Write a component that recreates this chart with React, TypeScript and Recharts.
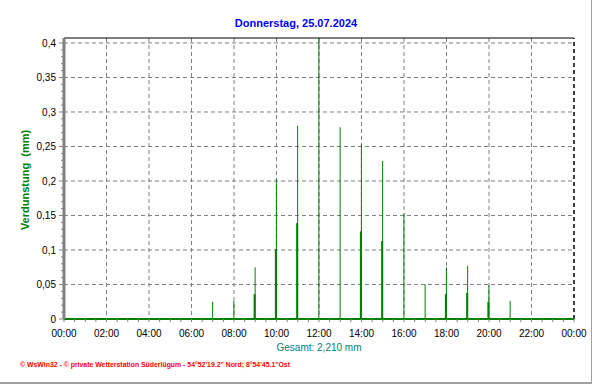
import { BarChart, Bar, XAxis, YAxis, CartesianGrid, ReferenceLine } from "recharts";

// Verdunstung pro Stunde (mm), 25.07.2024
const hours = [7, 8, 9, 10, 11, 12, 13, 14, 15, 16, 17, 18, 19, 20, 21];
const hourlyMm = [0.025, 0.026, 0.075, 0.203, 0.28, 0.41, 0.278, 0.254, 0.229, 0.153, 0.05, 0.075, 0.077, 0.049, 0.026];
const partMm = [null, null, 0.036, 0.101, 0.139, null, null, 0.127, 0.113, null, null, 0.036, 0.038, 0.025, null];

const timeLabels = ["00:00", "02:00", "04:00", "06:00", "08:00", "10:00", "12:00", "14:00", "16:00", "18:00", "20:00", "22:00", "00:00"];
const yLabels = ["0", "0,05", "0,1", "0,15", "0,2", "0,25", "0,3", "0,35", "0,4"];

const data = hours.map((h, i) => ({ t: h * 60, hourly: hourlyMm[i], part: partMm[i] }));

const xTicks = Array.from({ length: 49 }, (_, i) => i * 30);
const yTicks = Array.from({ length: 41 }, (_, i) => i / 100);
const vGrid = timeLabels.slice(1, -1).map((_, i) => (i + 1) * 120);
const hGrid = yLabels.slice(1).map((_, i) => (i + 1) * 0.05);

const Y_MAX = 0.4072;
const GREEN = "#008000";
const GREY = "#808080";

const XTick = ({ x, y, payload }: any) => {
  const v = payload.value;
  const major = v % 120 === 0;
  return (
    <g>
      <line x1={x} x2={x} y1={y} y2={y + 3} stroke={GREY} />
      {major && (
        <text x={x} y={y + 18} textAnchor="middle" fontSize={10} fill="#000">
          {timeLabels[v / 120]}
        </text>
      )}
    </g>
  );
};

const YTick = ({ x, y, payload }: any) => {
  const k = Math.round(payload.value * 100);
  const major = k % 5 === 0;
  return (
    <g>
      <line x1={x - (major ? 5 : 3)} x2={x} y1={y} y2={y} stroke={GREY} />
      {major && (
        <text x={x - 8} y={y + 4} textAnchor="end" fontSize={10} fill="#000">
          {yLabels[k / 5]}
        </text>
      )}
    </g>
  );
};

export default function App() {
  return (
    <div
      style={{
        position: "absolute",
        left: 0,
        top: 0,
        width: 591,
        height: 382,
        background: "#fff",
        borderRight: "1px solid #a0a0a0",
        borderBottom: "2px solid #a0a0a0",
        fontFamily: "'Liberation Sans', Arial, sans-serif",
      }}
    >
      <BarChart
        width={591}
        height={382}
        data={data}
        barGap={-2}
        margin={{ top: 38, right: 17, left: 14, bottom: 33 }}
      >
        <CartesianGrid
          stroke={GREY}
          strokeDasharray="4 3"
          horizontalValues={hGrid}
          verticalValues={vGrid}
        />
        <XAxis
          dataKey="t"
          type="number"
          domain={[0, 1440]}
          ticks={xTicks}
          interval={0}
          tickSize={0}
          tickMargin={0}
          tickLine={false}
          tick={<XTick />}
          axisLine={{ stroke: GREEN, strokeWidth: 2 }}
          height={30}
        />
        <YAxis
          type="number"
          domain={[0, Y_MAX]}
          allowDataOverflow
          ticks={yTicks}
          interval={0}
          tickSize={0}
          tickMargin={0}
          tickLine={false}
          tick={<YTick />}
          axisLine={{ stroke: GREY, strokeWidth: 3 }}
          width={50}
        />
        <ReferenceLine y={Y_MAX} stroke="#000" strokeWidth={1} />
        <ReferenceLine x={1440} stroke="#000" strokeDasharray="4 3" strokeWidth={1.5} />
        <Bar dataKey="hourly" fill={GREEN} barSize={1} isAnimationActive={false} />
        <Bar dataKey="part" fill={GREEN} barSize={2} isAnimationActive={false} />
      </BarChart>
      <svg
        width={591}
        height={382}
        style={{ position: "absolute", left: 0, top: 0, pointerEvents: "none" }}
      >
        <text x={296} y={27} textAnchor="middle" fontSize={11} fontWeight="bold" fill="#0000ff">
          Donnerstag, 25.07.2024
        </text>
        <text
          x={0}
          y={0}
          transform="translate(29,180) rotate(-90)"
          textAnchor="middle"
          fontSize={11}
          fontWeight="bold"
          fill={GREEN}
        >
          {"Verdunstung\u00a0 (mm)"}
        </text>
        <text x={319} y={351} textAnchor="middle" fontSize={10} fill="#008080">
          Gesamt: 2,210 mm
        </text>
        <text
          x={20}
          y={367}
          fontSize={6.5}
          fontWeight="bold"
          fill="#ff0000"
          textLength={270}
          lengthAdjust="spacingAndGlyphs"
        >
          {"© WsWin32  -  © private Wetterstation Süderlügum  -  54°52'19.2\" Nord; 8°54'45.1\"Ost"}
        </text>
      </svg>
    </div>
  );
}
